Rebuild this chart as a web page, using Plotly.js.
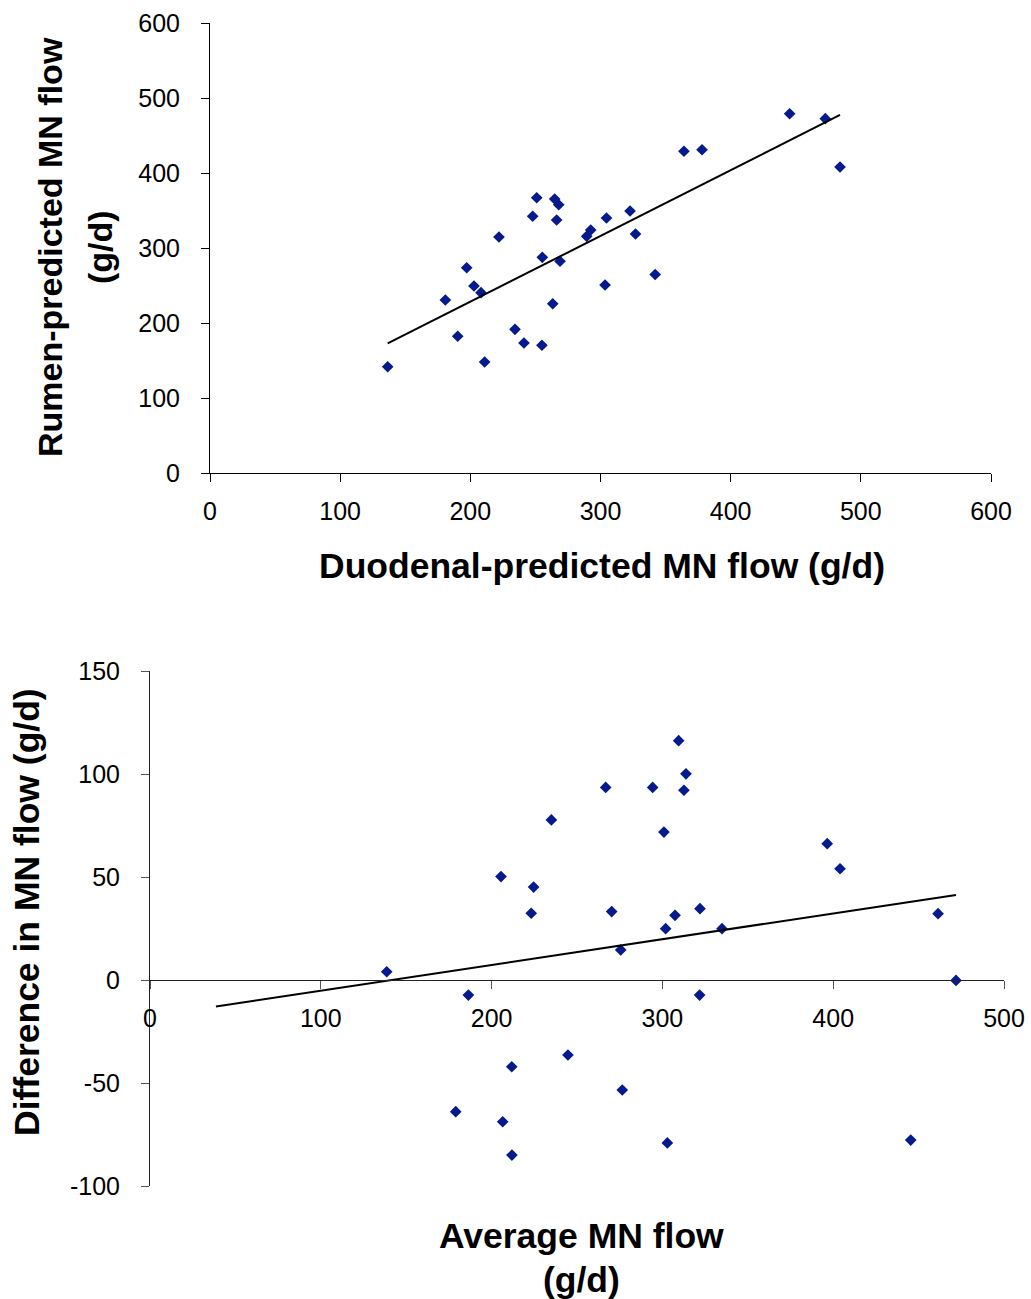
<!DOCTYPE html>
<html>
<head>
<meta charset="utf-8">
<script src="https://cdn.plot.ly/plotly-3.0.1.min.js"></script>
<style>
  html, body { margin: 0; padding: 0; background: #ffffff; }
  #chart { width: 1031px; height: 1299px; }
</style>
</head>
<body>
<div id="chart"></div>
<script>
// ---- Data ----
// Top panel: duodenal-predicted vs rumen-predicted MN flow (g/d)
const duodenalFlow = [136.5, 180.8, 190.3, 197.2, 202.8, 208.2, 211.0, 222.0, 234.3, 241.2, 255.0,
  263.3, 255.3, 268.9, 247.9, 251.0, 264.8, 267.9, 266.3, 289.4, 292.5, 304.6, 303.5, 322.7,
  326.9, 342.0, 364.1, 378.0, 445.3, 472.7, 484.0];
const rumenFlow = [141.7, 230.7, 182.3, 273.7, 249.3, 240.4, 148.0, 314.7, 191.6, 173.3, 170.3,
  225.7, 287.6, 282.3, 342.3, 367.0, 365.3, 357.7, 337.3, 315.6, 324.0, 340.0, 250.7, 349.3,
  318.7, 264.7, 429.0, 431.0, 479.0, 472.4, 408.0];

// Bottom panel: average MN flow vs difference in MN flow (g/d)
const averageFlow = [138.6, 186.4, 205.5, 224.6, 223.2, 235.0, 266.8, 270.3, 275.6, 294.3, 300.9,
  301.9, 307.4, 309.5, 313.8, 312.6, 322.0, 321.8, 334.9, 211.8, 244.7, 179.0, 206.5, 211.9,
  276.5, 302.9, 396.5, 404.0, 461.4, 471.9, 445.4];
const differenceFlow = [4.0, -7.3, 50.2, 45.1, 32.4, 77.7, 93.5, 33.2, 14.6, 93.5, 71.8,
  24.9, 31.4, 116.2, 100.1, 92.1, 34.6, -7.3, 24.9, -42.1, -36.4, -63.9, -68.8, -85.0,
  -53.4, -79.1, 66.2, 54.0, 32.2, -0.2, -77.7];

// Tick values and labels
const topTicks = [0, 100, 200, 300, 400, 500, 600];
const topTickLabels = ['0', '100', '200', '300', '400', '500', '600'];
const bottomXTicks = [0, 100, 200, 300, 400, 500];
const bottomXTickLabels = ['0', '100', '200', '300', '400', '500'];
const bottomYTicks = [-100, -50, 0, 50, 100, 150];
const bottomYTickLabels = ['-100', '-50', '0', '50', '100', '150'];

// Text
const topXTitle = "Duodenal-predicted MN flow (g/d)";
const topYTitle1 = "Rumen-predicted MN flow";
const topYTitle2 = "(g/d)";
const botXTitle1 = "Average MN flow";
const botXTitle2 = "(g/d)";
const botYTitle = "Difference in MN flow (g/d)";

// Trendline backward forecast (bottom panel), in x units
const bottomBackwardForecast = 100;

// ---- Helpers ----
function linreg(xs, ys) {
  const n = xs.length;
  let sx = 0, sy = 0, sxx = 0, sxy = 0;
  for (let i = 0; i < n; i++) { sx += xs[i]; sy += ys[i]; sxx += xs[i]*xs[i]; sxy += xs[i]*ys[i]; }
  const b = (n*sxy - sx*sy) / (n*sxx - sx*sx);
  const a = (sy - b*sx) / n;
  return {a, b};
}
function trend(xs, ys, back) {
  const r = linreg(xs, ys);
  const x0 = Math.min(...xs) - back, x1 = Math.max(...xs);
  return {x: [x0, x1], y: [r.a + r.b*x0, r.a + r.b*x1]};
}

const W = 1031, H = 1299;
const px = v => v / W;
const py = v => 1 - v / H;

const FONT = '"Liberation Sans", Arial, Helvetica, sans-serif';
const markerColor = '#061a8e';

const t1 = trend(duodenalFlow, rumenFlow, 0);
const t2 = trend(averageFlow, differenceFlow, bottomBackwardForecast);

const traces = [
  {x: duodenalFlow, y: rumenFlow, type: 'scatter', mode: 'markers', xaxis: 'x', yaxis: 'y',
   marker: {symbol: 'diamond', size: 9, color: markerColor}, name: 'Top data'},
  {x: t1.x, y: t1.y, type: 'scatter', mode: 'lines', xaxis: 'x', yaxis: 'y',
   line: {color: '#000000', width: 2}, name: 'Top trend'},
  {x: averageFlow, y: differenceFlow, type: 'scatter', mode: 'markers', xaxis: 'x2', yaxis: 'y2',
   marker: {symbol: 'diamond', size: 9, color: markerColor}, name: 'Bottom data'},
  {x: t2.x, y: t2.y, type: 'scatter', mode: 'lines', xaxis: 'x2', yaxis: 'y2',
   line: {color: '#000000', width: 2}, name: 'Bottom trend'}
];

const y2dom = [py(1186), py(671)];
const zeroPos = y2dom[0] + (0 - (-100)) / 250 * (y2dom[1] - y2dom[0]);

const axisCommon = {
  showgrid: false, zeroline: false, showline: true, linecolor: '#000000', linewidth: 1,
  ticks: 'outside', ticklen: 8, tickcolor: '#000000', tickwidth: 1,
  tickfont: {family: FONT, size: 25, color: '#000000'}, fixedrange: true
};

const layout = {
  width: W, height: H,
  margin: {l: 0, r: 0, t: 0, b: 0},
  paper_bgcolor: '#ffffff', plot_bgcolor: '#ffffff',
  showlegend: false,
  font: {family: FONT, color: '#000000'},
  xaxis: Object.assign({}, axisCommon, {
    domain: [px(210), px(991)], range: [0, 600], tickmode: 'array', tickvals: topTicks,
    ticktext: topTickLabels, anchor: 'y', ticklabelstandoff: 8
  }),
  yaxis: Object.assign({}, axisCommon, {
    domain: [py(473), py(23)], range: [0, 600], tickmode: 'array', tickvals: topTicks,
    ticktext: topTickLabels, anchor: 'x', ticklabelstandoff: 16
  }),
  xaxis2: Object.assign({}, axisCommon, {
    domain: [px(150), px(1004)], range: [0, 500], tickmode: 'array', tickvals: bottomXTicks,
    ticktext: bottomXTickLabels, anchor: 'free', position: zeroPos, ticklabelstandoff: 8,
    linecolor: '#222222', tickcolor: '#555555'
  }),
  yaxis2: Object.assign({}, axisCommon, {
    domain: y2dom, range: [-100, 150], tickmode: 'array', tickvals: bottomYTicks,
    ticktext: bottomYTickLabels, anchor: 'x2', ticklabelstandoff: 16,
    linecolor: '#222222', tickcolor: '#555555'
  }),
  annotations: [
    {text: topXTitle, xref: 'paper', yref: 'paper', x: px(602), y: py(566),
     xanchor: 'center', yanchor: 'middle', showarrow: false,
     font: {family: FONT, size: 35.5, color: '#000000', weight: 'bold'}},
    {text: topYTitle1, xref: 'paper', yref: 'paper', x: px(50), y: py(247),
     xanchor: 'center', yanchor: 'middle', showarrow: false, textangle: -90,
     font: {family: FONT, size: 34, color: '#000000', weight: 'bold'}},
    {text: topYTitle2, xref: 'paper', yref: 'paper', x: px(100), y: py(247),
     xanchor: 'center', yanchor: 'middle', showarrow: false, textangle: -90,
     font: {family: FONT, size: 34, color: '#000000', weight: 'bold'}},
    {text: botXTitle1, xref: 'paper', yref: 'paper', x: px(581), y: py(1236),
     xanchor: 'center', yanchor: 'middle', showarrow: false,
     font: {family: FONT, size: 35.5, color: '#000000', weight: 'bold'}},
    {text: botXTitle2, xref: 'paper', yref: 'paper', x: px(581), y: py(1280),
     xanchor: 'center', yanchor: 'middle', showarrow: false,
     font: {family: FONT, size: 35.5, color: '#000000', weight: 'bold'}},
    {text: botYTitle, xref: 'paper', yref: 'paper', x: px(27), y: py(912),
     xanchor: 'center', yanchor: 'middle', showarrow: false, textangle: -90,
     font: {family: FONT, size: 35.5, color: '#000000', weight: 'bold'}}
  ]
};

Plotly.newPlot('chart', traces, layout, {staticPlot: true, displayModeBar: false});
</script>
</body>
</html>
